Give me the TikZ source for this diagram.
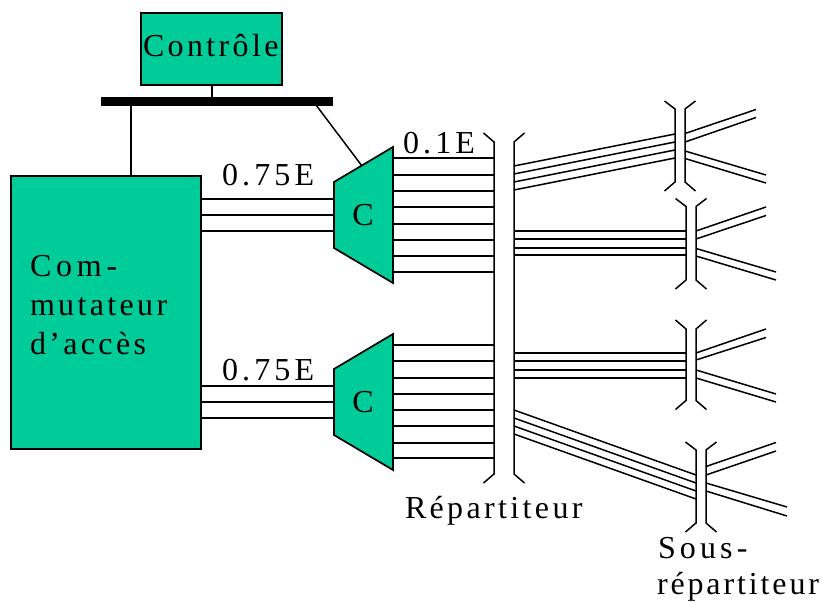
\documentclass[tikz,border=0pt]{standalone}
\usepackage{fontspec}
\setmainfont[LetterSpace=10.5]{Liberation Serif}
\definecolor{boxgreen}{HTML}{00CC99}
\newcommand{\wirelink}[3]{%
  \coordinate (#1a) at (#2);
  \coordinate (#1b) at (#3);
  \draw[wire] (#1a) -- (#1b);}
% splitter bracket: name, xl, xr, ytop, ybot, tip dx, tip dy top, tip dy bottom
\newcommand{\bracket}[8]{%
  \coordinate (#1tl) at (#2-#6,#4-#7);
  \coordinate (#1tr) at (#3+#6,#4-#7);
  \coordinate (#1ul) at (#2,#4);
  \coordinate (#1ur) at (#3,#4);
  \coordinate (#1dl) at (#2,#5);
  \coordinate (#1dr) at (#3,#5);
  \coordinate (#1bl) at (#2-#6,#5+#8);
  \coordinate (#1br) at (#3+#6,#5+#8);
  \draw[wire,line join=miter] (#1tl) -- (#1ul) -- (#1dl) -- (#1bl);
  \draw[wire,line join=miter] (#1tr) -- (#1ur) -- (#1dr) -- (#1br);}
\tikzset{
  wire/.style={draw=black,line width=1.5pt},
  greenbox/.style={draw=black,fill=boxgreen,line width=1.7pt,outer sep=0pt},
  label/.style={anchor=base west,inner sep=0pt,outer sep=0pt,font=\fontsize{32}{32}\selectfont,text=black},
  widelabel/.style={label,font=\fontsize{32}{32}\selectfont\addfontfeature{LetterSpace=13}},
  widerlabel/.style={label,font=\fontsize{32}{32}\selectfont\addfontfeature{LetterSpace=15}},
  tightlabel/.style={label,font=\fontsize{32}{32}\selectfont\addfontfeature{LetterSpace=9}},
  cletter/.style={anchor=base,inner sep=0pt,outer sep=0pt,font=\fontsize{32}{32}\selectfont\addfontfeature{LetterSpace=0},text=black}
}
\begin{document}
\begin{tikzpicture}[x=1pt,y=-1pt]
\useasboundingbox (0,0) rectangle (822,602);
\fill[white] (0,0) rectangle (822,602);
% Control box and bus
\node[greenbox,minimum width=141pt,minimum height=72pt,inner sep=0pt,anchor=north west] (ctrl) at (141,13) {};
\node[label] (ctrltxt) at (143,57) {Contrôle};
\node[fill=black,inner sep=0pt,outer sep=0pt,minimum width=232pt,minimum height=9pt,anchor=north west] (bus) at (101,97) {};
% Access switch
\node[greenbox,minimum width=190pt,minimum height=273pt,inner sep=0pt,anchor=north west] (acc) at (11,176) {};
\node[widerlabel] (acc1) at (30,276) {Com-};
\node[label] (acc2) at (30,315) {mutateur};
\node[label] (acc3) at (30,354) {d’accès};
% Control links
\coordinate (tapo) at (212,85);
\coordinate (tapp) at (212,97);
\draw[wire] (tapo) -- (tapp);
\coordinate (tapa) at (131,105);
\coordinate (tapb) at (131,176);
\draw[wire] (tapa) -- (tapb);
\coordinate (tapc) at (316,105);
\coordinate (tapd) at (362,166);
\draw[wire] (tapc) -- (tapd);
% Wires access -> concentrators
\wirelink{ua}{201,199}{334,199}
\wirelink{ub}{201,215}{334,215}
\wirelink{uc}{201,231}{334,231}
\wirelink{la}{201,386}{334,386}
\wirelink{lb}{201,402}{334,402}
\wirelink{lc}{201,418}{334,418}
% Concentrators
\draw[greenbox,line join=miter] (334,182) coordinate (c1a) -- (393,147) coordinate (c1b) -- (393,283) coordinate (c1c) -- (334,248) coordinate (c1d) -- cycle;
\draw[greenbox,line join=miter] (334,369) coordinate (c2a) -- (393,334) coordinate (c2b) -- (393,470) coordinate (c2c) -- (334,435) coordinate (c2d) -- cycle;
\node[cletter] (c1) at (363,225) {C};
\node[cletter] (c2) at (363,412) {C};
% Wires concentrators -> distributor
\foreach \y [count=\i] in {158,175,191,207,224,240,256,272}{\wirelink{p\i}{393,\y}{494,\y}}
\foreach \y [count=\i] in {345,361,378,394,410,426,443,458}{\wirelink{q\i}{393,\y}{494,\y}}
% Distributor
\bracket{rep}{494}{514}{142}{474}{10.5}{9}{9}
% Bundle to sub-distributor 1
\wirelink{sa1}{514,166}{675,134}
\wirelink{sa2}{514,174}{675,142}
\wirelink{sa3}{514,182}{675,150}
\wirelink{sa4}{514,190}{675,158}
\bracket{sa}{675}{685}{109}{182}{10.5}{8}{9}
\wirelink{fa1}{685,133.5}{756,109.5}
\wirelink{fa2}{685,142}{756,117.5}
\wirelink{fa3}{685,151}{766,175}
\wirelink{fa4}{685,158.5}{766,183}
% Bundle to sub-distributor 2
\foreach \y [count=\i] in {231,239,248,255}{\wirelink{sb\i}{514,\y}{686,\y}}
\bracket{sb}{686}{696}{206.5}{280}{10.5}{8}{9}
\wirelink{fb1}{696,231}{766,207}
\wirelink{fb2}{696,239}{766,215.5}
\wirelink{fb3}{696,248.5}{776,272}
\wirelink{fb4}{696,256}{776,280}
% Bundle to sub-distributor 3
\foreach \y [count=\i] in {353,361,370,378}{\wirelink{sc\i}{514,\y}{686,\y}}
\bracket{sc}{686}{696}{329}{400.5}{10.5}{9}{9}
\wirelink{fc1}{696,353}{766,329}
\wirelink{fc2}{696,360}{766,337.5}
\wirelink{fc3}{696,370}{776,394}
\wirelink{fc4}{696,378}{776,402}
% Bundle to sub-distributor 4
\wirelink{sd1}{514,410}{696,475}
\wirelink{sd2}{514,418}{696,483}
\wirelink{sd3}{514,426}{696,491}
\wirelink{sd4}{514,434}{696,499}
\bracket{sd}{696}{706}{450}{523}{10.5}{8}{9}
\wirelink{fd1}{706,466.5}{776,442.5}
\wirelink{fd2}{706,475}{776,451}
\wirelink{fd3}{706,483}{787,507}
\wirelink{fd4}{706,491}{787,516}
% Labels
\node[widelabel] (e1) at (222,185) {0.75E};
\node[widelabel] (e2) at (222,380) {0.75E};
\node[widelabel] (e3) at (403,153) {0.1E};
\node[label] (reptxt) at (405,518) {Répartiteur};
\node[widelabel] (sous1) at (658,558) {Sous-};
\node[tightlabel] (sous2) at (657,594.5) {répartiteur};
\end{tikzpicture}
\end{document}
